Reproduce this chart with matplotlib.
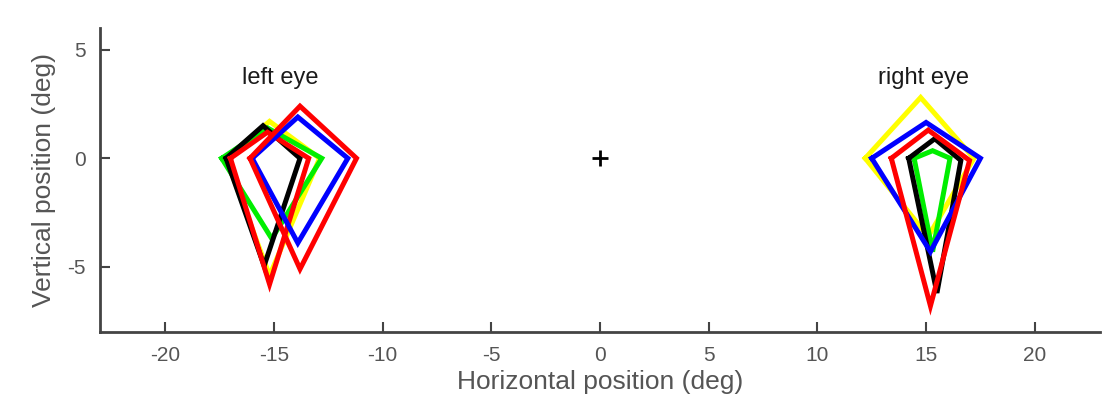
import numpy as np
import matplotlib.pyplot as plt

plt.rcParams['font.family'] = ['Liberation Sans', 'DejaVu Sans']
plt.rcParams['axes.unicode_minus'] = False

# kite outlines: left, top, right, bottom vertices (deg)
colors = ['yellow', '#00ee00', 'black', 'blue', 'red']

left_x = {
    'yellow': [-17.2, -15.2, -12.9, -15.2],
    '#00ee00': [-17.4, -15.3, -12.8, -15.1],
    'black': [-17.2, -15.5, -13.8, -15.45],
    'blue': [-16.0, -13.9, -11.6, -13.9],
    'red': [-16.1, -13.8, -11.2, -13.8],
}
left_y = {
    'yellow': [0.0, 1.7, 0.0, -5.4],
    '#00ee00': [0.0, 1.4, 0.0, -3.7],
    'black': [0.0, 1.5, 0.0, -4.95],
    'blue': [0.0, 1.9, 0.0, -3.9],
    'red': [0.0, 2.4, 0.0, -5.1],
}
# second (smaller) red outline on the left eye
left_red2_x = [-17.0, -15.3, -13.4, -15.2]
left_red2_y = [0.0, 1.2, 0.0, -5.8]

right_x = {
    'yellow': [12.2, 14.75, 17.2, 15.1],
    '#00ee00': [14.45, 15.3, 16.1, 15.3],
    'black': [14.2, 15.4, 16.6, 15.5],
    'blue': [12.5, 15.0, 17.5, 15.2],
    'red': [13.4, 15.1, 17.0, 15.2],
}
right_y = {
    'yellow': [0.0, 2.8, 0.0, -3.6],
    '#00ee00': [0.0, 0.35, 0.0, -4.3],
    'black': [0.0, 0.9, -0.1, -6.2],
    'blue': [0.0, 1.65, 0.0, -4.3],
    'red': [0.0, 1.3, -0.1, -6.8],
}

xticks = [-20, -15, -10, -5, 0, 5, 10, 15, 20]
yticks = [-5, 0, 5]


def closed(v):
    return list(v) + [v[0]]


fig = plt.figure(figsize=(11.16, 4.05), dpi=100)
ax = fig.add_axes([100 / 1116, (405 - 332) / 405, 1000 / 1116, 304 / 405])

lw = 3.6
for c in colors:
    ax.plot(closed(right_x[c]), closed(right_y[c]), color=c, lw=lw,
            solid_joinstyle='miter')
for c in colors:
    ax.plot(closed(left_x[c]), closed(left_y[c]), color=c, lw=lw,
            solid_joinstyle='miter')
    if c == 'black':
        ax.plot(closed(left_red2_x), closed(left_red2_y), color='red', lw=lw,
                solid_joinstyle='miter')

# fixation cross
ax.plot([0], [0], marker='+', color='black', markersize=12, mew=2)

ax.text(-14.7, 3.7, 'left eye', ha='center', va='center', fontsize=17, color='#1a1a1a')
ax.text(14.9, 3.7, 'right eye', ha='center', va='center', fontsize=17, color='#1a1a1a')

ax.set_xlim(-23, 23)
ax.set_ylim(-8, 6)
ax.set_xticks(xticks)
ax.set_yticks(yticks)
ax.spines['top'].set_visible(False)
ax.spines['right'].set_visible(False)
for s in ['left', 'bottom']:
    ax.spines[s].set_color('#444444')
    ax.spines[s].set_linewidth(2)
ax.tick_params(direction='in', length=7, width=1.5, color='#444444',
               labelsize=15, labelcolor='#555555', pad=10)
ax.set_xlabel('Horizontal position (deg)', fontsize=19, color='#555555', labelpad=4)
ax.set_ylabel('Vertical position (deg)', fontsize=19, color='#555555', labelpad=8)

fig.savefig('out.png', dpi=100)
